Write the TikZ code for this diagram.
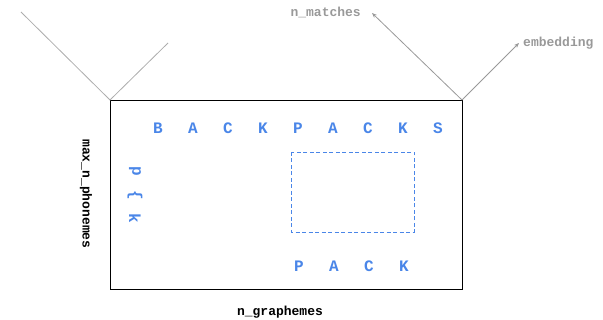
\documentclass[tikz,border=0pt]{standalone}
\usepackage{fontspec}
\setmonofont{Liberation Mono}
\usetikzlibrary{arrows.meta}
\definecolor{gblue}{HTML}{4A86E8}
\definecolor{lgrey}{HTML}{999999}
\tikzset{
  letter/.style={text=gblue, font=\ttfamily\bfseries\fontsize{16}{16}\selectfont, inner sep=0pt, anchor=center},
  phon/.style={letter, rotate=-90},
  glabel/.style={text=lgrey, font=\ttfamily\bfseries\fontsize{13}{13}\selectfont, inner sep=0pt},
  blabel/.style={text=black, font=\ttfamily\bfseries\fontsize{13}{13}\selectfont, inner sep=0pt},
  greyline/.style={draw=lgrey!80, line width=0.8pt},
  greyarrow/.style={draw=lgrey, line width=0.8pt, -{Stealth[length=5pt,width=4pt]}},
}
\begin{document}
\begin{tikzpicture}[x=1pt,y=-1pt]
\useasboundingbox (0,0) rectangle (603,320);
% main box
\draw[black, line width=0.9pt] (110,100) rectangle (462,289);
\coordinate (tl) at (110,100);
\coordinate (tr) at (462,100);
% left lines
\coordinate (l1) at (21,12);
\coordinate (l2) at (168,43);
\draw[greyline] (l1) -- (tl) -- (l2);
% right arrows
\node[glabel, anchor=east] (nm) at (361,12) {n\_matches};
\node[glabel, anchor=west] (emb) at (523,43) {embedding};
\coordinate (nmend) at (372,13);
\coordinate (embend) at (519,43);
\draw[greyarrow] (tr) -- (nmend);
\draw[greyarrow] (tr) -- (embend);
% graphemes
\foreach \c [count=\i] in {B,A,C,K,P,A,C,K,S}{
  \node[letter] (g\i) at ({158+35*(\i-1)},128) {\c};
}
% phonemes
\node[phon] (p1) at (135,171) {p};
\node[phon] (p2) at (135,195) {\{};
\node[phon] (p3) at (135,218) {k};
% dashed rectangle
\draw[gblue, dashed, line width=0.8pt, dash pattern=on 4pt off 2.5pt] (291,152) rectangle (414,232);
% PACK
\foreach \c [count=\i] in {P,A,C,K}{
  \node[letter] (s\i) at ({299+35*(\i-1)},266) {\c};
}
% axis labels
\node[blabel] (ng) at (280,312) {n\_graphemes};
\node[blabel, rotate=-90] (mp) at (86,194) {max\_n\_phonemes};
\end{tikzpicture}
\end{document}
